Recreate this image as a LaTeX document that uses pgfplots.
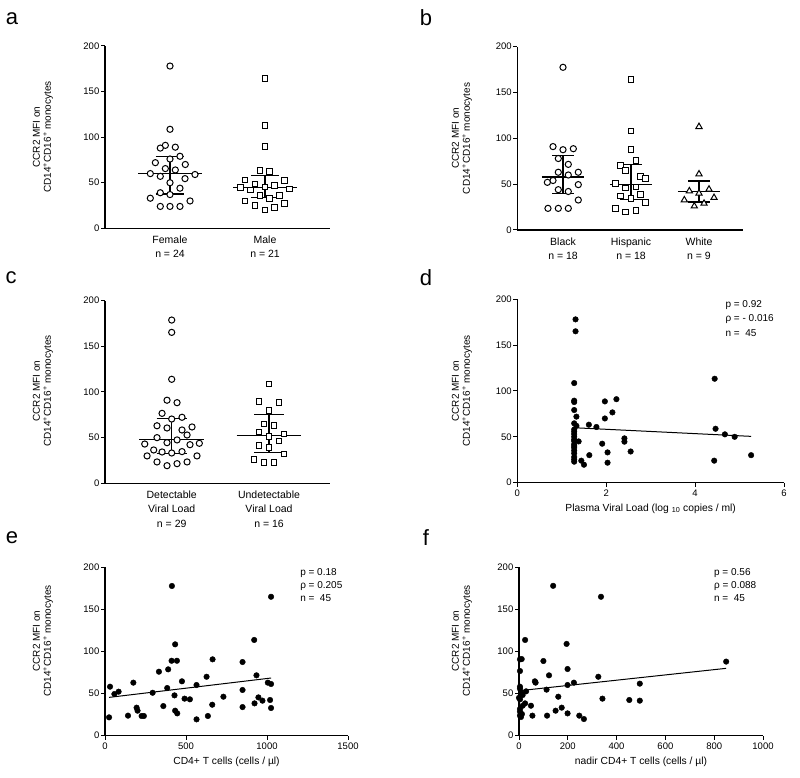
\documentclass[border=0pt]{standalone}
\usepackage{fontspec}
\setmainfont{Liberation Sans}
\usepackage{pgfplots}
\pgfplotsset{compat=1.18}

\pgfplotsset{
  panel/.style={
    scale only axis,
    axis x line=bottom, axis y line=left,
    axis line style={-, line width=1.3pt},
    ymin=0, ymax=200, ytick={0,50,100,150,200},
    tick align=outside, major tick length=4pt,
    tick style={black, line width=1pt},
    /pgf/number format/assume math mode=true,
    /pgf/number format/set thousands separator={},
    tick label style={font=\fontsize{9.5}{11}\selectfont},
    yticklabel style={inner sep=1.5pt},
    xlabel style={font=\fontsize{10.3}{12}\selectfont},
    clip=false,
  },
  cat/.style={panel, xtick style={draw=none},
    x tick label style={align=center, font=\fontsize{10.5}{14.5}\selectfont}},
  opencirc/.style={only marks, mark=*, mark size=3.1pt,
    mark options={fill=white, draw=black, line width=1pt}},
  opensq/.style={only marks, mark=square*, mark size=2.9pt,
    mark options={fill=white, draw=black, line width=1pt}},
  opentri/.style={only marks, mark=triangle*, mark size=3.6pt,
    mark options={fill=white, draw=black, line width=1pt}},
  dots/.style={only marks, mark=*, mark size=2.8pt,
    mark options={fill=black, draw=black}},
  medbar/.style={black, line width=1.3pt, mark=none, unbounded coords=jump},
  fitline/.style={black, line width=1pt, mark=none},
}
\tikzset{
  ylab/.style={rotate=90, align=center, font=\fontsize{10}{11}\selectfont},
  letter/.style={font=\fontsize{22}{22}\selectfont},
}
\newcommand{\ylabtext}{CCR2 MFI on\\CD14\textsuperscript{+}CD16\textsuperscript{+} monocytes}
\newcommand{\stat}{\fontsize{10}{12}\selectfont}

\begin{document}
\begin{tikzpicture}
\path[use as bounding box] (0pt,0pt) rectangle (800pt,778pt);

% panel letters
\node[letter] at (12pt,759pt) {a};
\node[letter] at (426pt,760pt) {b};
\node[letter] at (11pt,500.5pt) {c};
\node[letter] at (426pt,500.5pt) {d};
\node[letter] at (12pt,240pt) {e};
\node[letter] at (426pt,240pt) {f};

% y labels
\node[ylab] at (43pt,641pt) {\ylabtext};
\node[ylab] at (462pt,639.6pt) {\ylabtext};
\node[ylab] at (43pt,387pt) {\ylabtext};
\node[ylab] at (462pt,387pt) {\ylabtext};
\node[ylab] at (43pt,137pt) {\ylabtext};
\node[ylab] at (462pt,137pt) {\ylabtext};

% ---------------- a: sex
\begin{axis}[cat, at={(105pt,549.7pt)}, anchor=south west,
  width=225pt, height=182.3pt, xmin=0.316, xmax=2.684,
  xtick={1,2}, xticklabels={Female\\n = 24, Male\\n = 21}]
\addplot[opencirc] coordinates {
  (1.000,178) (1.000,108.6) (0.951,91) (0.898,88) (1.056,89)
  (1.105,79) (1.000,76) (0.846,72) (1.161,70) (0.951,65.5)
  (1.056,64) (0.793,60) (1.263,59) (0.898,57) (1.158,54.5)
  (1.000,50) (1.105,44) (0.898,39) (1.000,37) (0.793,33)
  (1.211,30) (0.898,24) (1.000,24) (1.105,24)};
\addplot[opensq] coordinates {
  (2.000,164.5) (2.000,113) (2.000,89.6) (1.947,63.6) (2.049,62)
  (1.789,53) (2.204,52) (1.895,48.6) (2.102,47) (1.740,44.6)
  (2.000,45.3) (2.256,43) (1.846,42) (1.947,35.8) (2.151,35.8)
  (2.049,33) (1.789,30) (2.204,27.4) (1.895,25) (2.102,22.7)
  (2.000,20)};
\addplot[medbar] coordinates {
  (0.667,60) (1.333,60) (nan,nan) (1,37.7) (1,78.6) (nan,nan)
  (0.85,78.6) (1.15,78.6) (nan,nan) (0.85,37.7) (1.15,37.7)};
\addplot[medbar] coordinates {
  (1.667,44.6) (2.333,44.6) (nan,nan) (2,34) (2,57.8) (nan,nan)
  (1.85,57.8) (2.15,57.8) (nan,nan) (1.85,34) (2.15,34)};
\end{axis}

% ---------------- b: race
\begin{axis}[cat, at={(517.3pt,548pt)}, anchor=south west,
  width=225.7pt, height=183.3pt, xmin=0.328, xmax=3.647,
  xtick={1,2,3}, xticklabels={Black\\n = 18, Hispanic\\n = 18, White\\n = 9}]
\addplot[opencirc] coordinates {
  (1.000,177.5) (0.853,91) (1.000,87.6) (1.152,88.7) (0.931,78)
  (1.078,71.6) (0.931,63) (1.225,63) (1.078,60) (0.853,54)
  (0.770,52) (1.225,49.5) (0.931,44) (1.078,42) (1.225,32.7)
  (0.779,23.6) (0.931,23.6) (1.078,23.6)};
\addplot[opensq] coordinates {
  (2.000,164) (2.000,108) (2.000,88) (2.074,75.6) (1.843,70)
  (1.922,64.7) (2.142,58.5) (2.216,56) (1.775,51) (1.922,45.8)
  (2.074,47) (1.843,37) (2.142,39) (2.000,34) (2.216,30)
  (1.775,23.6) (1.922,19.6) (2.074,21.5)};
\addplot[opentri] coordinates {
  (3.000,112.7) (3.000,61) (2.858,42.5) (3.147,44.4) (3.000,40)
  (2.784,32.7) (3.221,35.3) (3.074,29) (2.931,26)};
\addplot[medbar] coordinates {
  (0.69,57.8) (1.31,57.8) (nan,nan) (1,40) (1,81) (nan,nan)
  (0.845,81) (1.155,81) (nan,nan) (0.845,40) (1.155,40)};
\addplot[medbar] coordinates {
  (1.69,49.5) (2.31,49.5) (nan,nan) (2,33.5) (2,71.6) (nan,nan)
  (1.845,71.6) (2.155,71.6) (nan,nan) (1.845,33.5) (2.155,33.5)};
\addplot[medbar] coordinates {
  (2.69,41.8) (3.31,41.8) (nan,nan) (3,30.5) (3,53.5) (nan,nan)
  (2.845,53.5) (3.155,53.5) (nan,nan) (2.845,30.5) (3.155,30.5)};
\end{axis}

% ---------------- c: viral load status
\begin{axis}[cat, at={(105pt,294.7pt)}, anchor=south west,
  width=225pt, height=182.6pt, xmin=0.3145, xmax=2.627,
  xtick={1,2}, xticklabels={Detectable\\Viral Load\\n = 29, Undetectable\\Viral Load\\n = 16}]
\addplot[opencirc] coordinates {
  (1.000,178.8) (1.000,165.3) (1.000,113.9) (0.952,91) (1.055,88.3)
  (0.901,76.6) (1.106,72.3) (1.000,70.4) (0.849,63) (0.952,60.6)
  (1.209,61.7) (1.106,58.4) (1.158,52.9) (0.849,50) (0.952,44.5)
  (0.723,43) (1.284,43.8) (1.188,42.3) (1.055,47.5) (0.815,36.5)
  (0.901,34.3) (1.000,33.2) (1.106,34.7) (0.747,30) (1.260,30)
  (0.849,23.4) (1.055,21.5) (1.158,23.4) (0.952,19.3)};
\addplot[opensq] coordinates {
  (2.000,108.8) (1.897,89.4) (2.103,88.3) (2.000,79.6) (1.949,65)
  (2.051,63.3) (1.897,56.2) (2.154,54) (2.000,51) (2.103,46.4)
  (1.897,41.2) (2.000,39) (2.154,32) (1.846,26.3) (1.949,23)
  (2.051,23)};
\addplot[medbar] coordinates {
  (0.666,48.2) (1.334,48.2) (nan,nan) (1,32.5) (1,71.2) (nan,nan)
  (0.846,71.2) (1.154,71.2) (nan,nan) (0.846,32.5) (1.154,32.5)};
\addplot[medbar] coordinates {
  (1.666,52.2) (2.334,52.2) (nan,nan) (2,34) (2,75.5) (nan,nan)
  (1.846,75.5) (2.154,75.5) (nan,nan) (1.846,34) (2.154,34)};
\end{axis}

% ---------------- d: plasma viral load
\begin{axis}[panel, at={(517.3pt,295.3pt)}, anchor=south west,
  width=266.7pt, height=183.5pt, xmin=0, xmax=6, xtick={0,2,4,6},
  xlabel={Plasma Viral Load (log \textsubscript{10} copies / ml)}]
\addplot[dots] coordinates {
  (1.31,178) (1.31,165) (1.28,108.6) (1.28,89.4) (1.28,87.9)
  (1.28,79.2) (1.33,72) (1.28,64.7) (1.33,62) (1.28,55.6)
  (1.28,53) (1.28,50) (1.28,47) (1.28,45.4) (1.38,45)
  (1.28,42) (1.28,40) (1.28,38) (1.28,35) (1.28,32)
  (1.28,28) (1.28,25.4) (1.28,22.9) (1.44,24) (1.50,19.6)
  (1.61,63.2) (1.78,60.7) (1.62,30) (1.97,88.6) (1.97,70)
  (2.23,91) (2.14,76.6) (1.91,42.5) (2.03,33) (2.03,21.8)
  (2.41,48.3) (2.41,44.7) (2.55,34) (4.44,113.3) (4.46,58.8)
  (4.43,24) (4.67,52.7) (4.89,50) (5.26,30) (1.28,58)};
\addplot[fitline] coordinates {(1.28,59.9) (5.26,50.5)};
\node[anchor=west, inner sep=0, font=\stat] at (axis cs:4.68,193.6) {p = 0.92};
\node[anchor=west, inner sep=0, font=\stat] at (axis cs:4.68,178.4) {ρ = - 0.016};
\node[anchor=west, inner sep=0, font=\stat] at (axis cs:4.68,163.1) {n = \ 45};
\end{axis}

% ---------------- e: CD4 count
\begin{axis}[panel, at={(105pt,42.3pt)}, anchor=south west,
  width=243pt, height=168.4pt, xmin=0, xmax=1500, xtick={0,500,1000,1500},
  xlabel={CD4+ T cells (cells / µl)}]
\addplot[dots] coordinates {
  (25,21.8) (31,58.2) (58,49.5) (84,52.3) (142,23.8)
  (175,63) (195,33.3) (201,29.7) (226,23.4) (240,23.4)
  (294,51) (333,76) (360,35.2) (384,56.6) (390,78.8)
  (413,177.8) (411,89) (433,108.5) (444,89) (429,47.9)
  (433,29.7) (446,26.5) (475,64.6) (491,44) (524,43.2)
  (565,60.2) (565,19.4) (627,70) (635,23.4) (664,90.7)
  (662,36.8) (731,46.3) (849,87.5) (849,54.3) (849,34)
  (921,113.7) (935,71.7) (923,38.4) (947,45.5) (972,41.6)
  (1005,63) (1025,165) (1025,61.4) (1019,42.4) (1025,32.9)};
\addplot[fitline] coordinates {(25,45.5) (1025,68.5)};
\node[anchor=west, inner sep=0, font=\stat] at (axis cs:1204,193.2) {p = 0.18};
\node[anchor=west, inner sep=0, font=\stat] at (axis cs:1204,177.8) {ρ = 0.205};
\node[anchor=west, inner sep=0, font=\stat] at (axis cs:1204,163.5) {n = \ 45};
\end{axis}

% ---------------- f: nadir CD4 count
\begin{axis}[panel, at={(519pt,42.3pt)}, anchor=south west,
  width=244pt, height=168.4pt, xmin=0, xmax=1000, xtick={0,200,400,600,800,1000},
  xlabel={nadir CD4+ T cells (cells / µl)}]
\addplot[dots] coordinates {
  (140,178) (336,165) (25,113.7) (195,109) (4,90.7)
  (11,91) (4,76.8) (100,88.7) (199,79.2) (123,71.7)
  (65,64.6) (68,63) (325,70) (225,63) (495,61.8)
  (199,60.2) (4,58.2) (4,55.8) (113,54.7) (29,52.7)
  (8,50.3) (15,48.3) (4,43.2) (161,46.3) (342,44)
  (452,42.4) (495,41.6) (25,38.4) (15,35.6) (49,35.6)
  (175,33.3) (4,31.7) (150,29.7) (4,28.5) (12,25.7)
  (199,26.5) (4,23.8) (8,22.2) (55,23.8) (115,23.8)
  (247,23.8) (266,19.8) (849,88) (0,45) (10,50)};
\addplot[fitline] coordinates {(4,53.5) (849,80)};
\node[anchor=west, inner sep=0, font=\stat] at (axis cs:799,193.2) {p = 0.56};
\node[anchor=west, inner sep=0, font=\stat] at (axis cs:799,177.8) {ρ = 0.088};
\node[anchor=west, inner sep=0, font=\stat] at (axis cs:799,163.5) {n = \ 45};
\end{axis}
\end{tikzpicture}
\end{document}
